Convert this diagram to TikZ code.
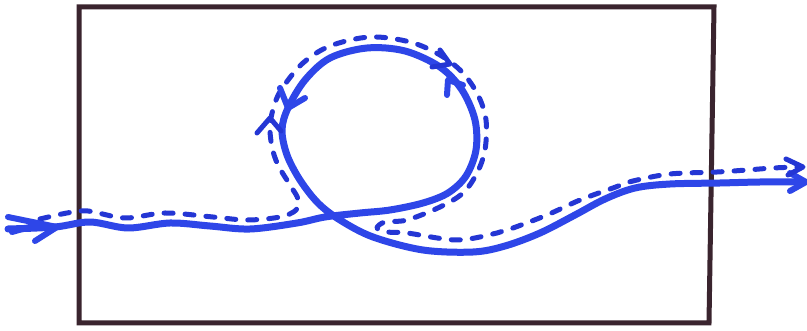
\documentclass[tikz,border=0pt]{standalone}
\definecolor{penblue}{RGB}{46,70,232}
\definecolor{dashblue}{RGB}{36,54,212}
\definecolor{framecol}{RGB}{58,36,46}
\tikzset{
  solidline/.style={penblue, line width=7pt, line cap=round, line join=round},
  dashline/.style={dashblue, line width=5pt, line cap=round, line join=round, dash pattern=on 9pt off 12pt},
  solidtip/.style={penblue, line width=6pt, line cap=round, line join=round},
  dashtip/.style={dashblue, line width=5pt, line cap=round, line join=round},
  framebox/.style={framecol, line width=5pt, line join=miter}
}
\begin{document}
\begin{tikzpicture}[x=1pt,y=-1pt]
\useasboundingbox (0,0) rectangle (807,331);
\fill[white] (0,0) rectangle (807,331);
% frame
\draw[framebox] (79,7) -- (714,7) -- (709,323) -- (79,323) -- cycle;
% solid path
\draw[solidline] plot[smooth, tension=0.55] coordinates {
 (8,229) (55,227) (90,222) (128,228) (170,223) (210,226) (250,229)
 (297,223) (325,217) (360,213) (390,210) (423,203) (448,193) (466,176)
 (476,150) (475,120) (462,90) (440,67) (405,51) (367,48) (330,58) (305,80)
 (288,108) (282,130) (287,155) (300,180) (318,203) (340,220) (373,237)
 (423,250) (473,252) (505,246) (540,233) (575,215) (605,199)
 (635,188) (670,184) (720,183) (760,182) (800,182)};
% dashed path
\draw[dashline] plot[smooth, tension=0.55] coordinates {
 (40,219) (67,213) (88,211) (125,218) (165,213) (213,217) (247,220)
 (280,217) (296,210) (298,199) (290,185) (278,165) (272,147) (270,125)
 (275,103) (283,87) (303,63) (330,46) (370,37) (410,42) (440,55) (462,72)
 (478,95) (486,120) (485,150) (477,173) (463,193) (440,207) (407,220)
 (385,222) (377,228) (387,232) (407,233) (457,240) (497,233) (513,228)
 (547,215) (580,200) (613,188) (633,181) (670,174) (717,172) (747,170)
 (773,168) (798,167)};
% arrowheads
\draw[solidtip] (8,217) -- (57,227) -- (35,241);
\draw[solidtip] (12,232) -- (40,224);
\draw[solidtip] (447,95) -- (448,80) -- (463,85);
\draw[solidtip] (280,88) -- (288,108) -- (305,98);
\draw[solidtip] (790,173) -- (806,182) -- (790,191);
\draw[dashtip] (257,133) -- (270,118) -- (281,131);
\draw[dashtip] (440,50) -- (450,64) -- (432,67);
\draw[dashtip] (786,159) -- (803,167) -- (788,175);
\end{tikzpicture}
\end{document}
